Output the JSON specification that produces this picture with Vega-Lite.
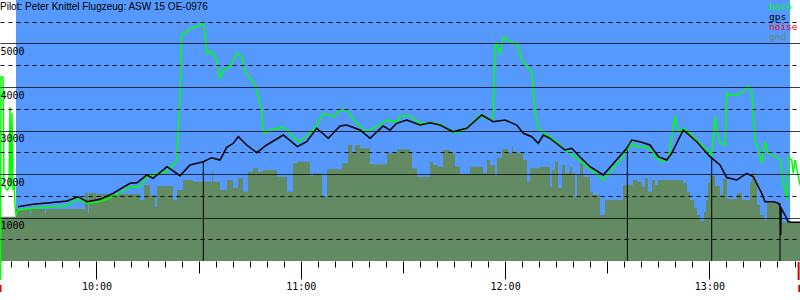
{
  "$schema": "https://vega.github.io/schema/vega-lite/v6.json",
  "width": 800,
  "height": 261,
  "autosize": {"type": "none"},
  "padding": {"left": 0, "top": 0, "right": 0, "bottom": 39},
  "background": "white",
  "config": {"view": {"stroke": null}},
  "datasets": {
    "bg": [{"start": 576.36, "end": 803.7}],
    "gnd": [
      {"t": 571.66, "alt": 1018}, {"t": 576.36, "alt": 1195}, {"t": 580.47, "alt": 1080}, {"t": 580.76, "alt": 1195},
      {"t": 584.88, "alt": 1103}, {"t": 585.17, "alt": 1195}, {"t": 596.62, "alt": 1563}, {"t": 597.5, "alt": 1103},
      {"t": 597.8, "alt": 1563}, {"t": 599.85, "alt": 1333}, {"t": 600.15, "alt": 1540}, {"t": 612.78, "alt": 1402},
      {"t": 613.95, "alt": 1747}, {"t": 615.71, "alt": 1517}, {"t": 617.18, "alt": 1241}, {"t": 617.77, "alt": 1724},
      {"t": 622.47, "alt": 1402}, {"t": 623.64, "alt": 1632}, {"t": 625.4, "alt": 1862}, {"t": 628.34, "alt": 1823},
      {"t": 633.92, "alt": 2092}, {"t": 634.22, "alt": 1823}, {"t": 636.27, "alt": 1632}, {"t": 638.33, "alt": 1862},
      {"t": 640.09, "alt": 1678}, {"t": 641.56, "alt": 1908}, {"t": 643.03, "alt": 1593}, {"t": 644.49, "alt": 2053},
      {"t": 645.96, "alt": 2131}, {"t": 647.43, "alt": 2053}, {"t": 648.9, "alt": 2092}, {"t": 653.01, "alt": 1938},
      {"t": 655.95, "alt": 1593}, {"t": 657.71, "alt": 2246}, {"t": 658.88, "alt": 2283}, {"t": 662.7, "alt": 1954},
      {"t": 663.59, "alt": 2016}, {"t": 666.23, "alt": 1478}, {"t": 667.7, "alt": 2108}, {"t": 672.1, "alt": 2246},
      {"t": 673.86, "alt": 2667}, {"t": 675.04, "alt": 2483}, {"t": 675.92, "alt": 2667}, {"t": 677.39, "alt": 2591},
      {"t": 680.33, "alt": 2223}, {"t": 685.32, "alt": 2476}, {"t": 688.26, "alt": 2568}, {"t": 692.07, "alt": 2483},
      {"t": 692.66, "alt": 2131}, {"t": 694.13, "alt": 1938}, {"t": 697.95, "alt": 2283}, {"t": 698.83, "alt": 2207},
      {"t": 700.3, "alt": 2168}, {"t": 701.76, "alt": 2552}, {"t": 703.82, "alt": 2476}, {"t": 705.29, "alt": 2168},
      {"t": 706.76, "alt": 2000}, {"t": 709.69, "alt": 2168}, {"t": 713.51, "alt": 2023}, {"t": 714.69, "alt": 2322},
      {"t": 715.57, "alt": 2207}, {"t": 717.03, "alt": 1954}, {"t": 717.62, "alt": 2361}, {"t": 719.09, "alt": 2568},
      {"t": 720.86, "alt": 2483}, {"t": 722.03, "alt": 2644}, {"t": 722.32, "alt": 2513}, {"t": 723.5, "alt": 2476},
      {"t": 725.26, "alt": 2322}, {"t": 726.43, "alt": 1823}, {"t": 727.32, "alt": 2131}, {"t": 730.25, "alt": 2168},
      {"t": 733.19, "alt": 1708}, {"t": 733.78, "alt": 2092}, {"t": 734.66, "alt": 2283}, {"t": 735.54, "alt": 1678},
      {"t": 736.71, "alt": 2207}, {"t": 737.6, "alt": 2023}, {"t": 739.06, "alt": 2168}, {"t": 739.65, "alt": 2023},
      {"t": 740.53, "alt": 1448}, {"t": 741.12, "alt": 1977}, {"t": 742.0, "alt": 2253}, {"t": 742.88, "alt": 1938},
      {"t": 744.94, "alt": 1593}, {"t": 745.82, "alt": 1517}, {"t": 747.87, "alt": 1057}, {"t": 749.34, "alt": 1402},
      {"t": 754.63, "alt": 1747}, {"t": 757.56, "alt": 1862}, {"t": 758.74, "alt": 1823}, {"t": 760.2, "alt": 1708},
      {"t": 761.09, "alt": 1901}, {"t": 761.97, "alt": 1593}, {"t": 763.15, "alt": 1862}, {"t": 764.03, "alt": 1747},
      {"t": 764.91, "alt": 1862}, {"t": 772.25, "alt": 1793}, {"t": 773.42, "alt": 1593}, {"t": 774.31, "alt": 1402},
      {"t": 775.48, "alt": 1218}, {"t": 776.36, "alt": 1057}, {"t": 777.24, "alt": 919}, {"t": 778.41, "alt": 1126},
      {"t": 779.0, "alt": 1402}, {"t": 779.59, "alt": 1793}, {"t": 780.18, "alt": 1954}, {"t": 781.65, "alt": 1724},
      {"t": 783.12, "alt": 1517}, {"t": 784.0, "alt": 1885}, {"t": 785.18, "alt": 1425}, {"t": 788.11, "alt": 1563},
      {"t": 789.58, "alt": 1402}, {"t": 791.93, "alt": 1816}, {"t": 792.52, "alt": 2046}, {"t": 793.1, "alt": 1816},
      {"t": 793.98, "alt": 1287}, {"t": 794.87, "alt": 1057}, {"t": 796.04, "alt": 942}, {"t": 796.92, "alt": 1333},
      {"t": 800.15, "alt": 1248}, {"t": 801.33, "alt": 896}, {"t": 806.61, "alt": 896}
    ],
    "baro": [
      {"t": 571.81, "alt": -437}, {"t": 571.95, "alt": 4230}, {"t": 572.54, "alt": 4230}, {"t": 572.83, "alt": 1747},
      {"t": 573.72, "alt": 1632}, {"t": 574.3, "alt": 1678}, {"t": 574.6, "alt": 3540}, {"t": 574.89, "alt": 1701},
      {"t": 575.18, "alt": 3402}, {"t": 575.48, "alt": 1632}, {"t": 575.78, "alt": 1793}, {"t": 576.07, "alt": 1287},
      {"t": 576.36, "alt": 1057}, {"t": 577.03, "alt": 1172}, {"t": 581.35, "alt": 1211}, {"t": 586.34, "alt": 1248},
      {"t": 591.34, "alt": 1271}, {"t": 594.57, "alt": 1425}, {"t": 597.21, "alt": 1326}, {"t": 601.03, "alt": 1363},
      {"t": 604.85, "alt": 1478}, {"t": 609.84, "alt": 1708}, {"t": 612.78, "alt": 1708}, {"t": 614.83, "alt": 1938},
      {"t": 617.77, "alt": 2016}, {"t": 620.7, "alt": 2053}, {"t": 622.47, "alt": 2207}, {"t": 623.64, "alt": 2322},
      {"t": 624.03, "alt": 3087}, {"t": 624.52, "alt": 3701}, {"t": 625.02, "alt": 5195}, {"t": 626.49, "alt": 5271},
      {"t": 627.46, "alt": 5349}, {"t": 629.43, "alt": 5386}, {"t": 631.37, "alt": 5464}, {"t": 631.87, "alt": 5234},
      {"t": 632.37, "alt": 4775}, {"t": 633.83, "alt": 4811}, {"t": 635.3, "alt": 4621}, {"t": 636.27, "alt": 4200},
      {"t": 637.24, "alt": 4391}, {"t": 639.21, "alt": 4467}, {"t": 641.18, "alt": 4775}, {"t": 642.64, "alt": 4697},
      {"t": 643.61, "alt": 4352}, {"t": 645.08, "alt": 4200}, {"t": 646.55, "alt": 4046}, {"t": 647.52, "alt": 3777},
      {"t": 648.52, "alt": 3471}, {"t": 648.99, "alt": 3011}, {"t": 649.49, "alt": 2936}, {"t": 650.96, "alt": 3011},
      {"t": 654.86, "alt": 3074}, {"t": 656.83, "alt": 2936}, {"t": 659.27, "alt": 2742}, {"t": 661.73, "alt": 2873},
      {"t": 663.67, "alt": 3011}, {"t": 666.61, "alt": 3395}, {"t": 669.55, "alt": 3317}, {"t": 671.51, "alt": 3471},
      {"t": 673.48, "alt": 3471}, {"t": 676.42, "alt": 3165}, {"t": 679.36, "alt": 2972}, {"t": 682.29, "alt": 3087},
      {"t": 685.23, "alt": 3241}, {"t": 688.17, "alt": 3202}, {"t": 689.14, "alt": 3333}, {"t": 692.07, "alt": 3333},
      {"t": 695.01, "alt": 3165}, {"t": 697.95, "alt": 3165}, {"t": 700.88, "alt": 3149}, {"t": 702.85, "alt": 3051},
      {"t": 705.79, "alt": 2949}, {"t": 708.72, "alt": 3051}, {"t": 712.63, "alt": 3356}, {"t": 715.56, "alt": 3241},
      {"t": 716.53, "alt": 3317}, {"t": 717.03, "alt": 4926}, {"t": 717.53, "alt": 5005}, {"t": 718.51, "alt": 4775},
      {"t": 719.48, "alt": 5156}, {"t": 721.44, "alt": 5041}, {"t": 723.41, "alt": 5005}, {"t": 723.88, "alt": 4890},
      {"t": 724.88, "alt": 4621}, {"t": 726.82, "alt": 4430}, {"t": 727.82, "alt": 4352}, {"t": 728.79, "alt": 3471},
      {"t": 729.75, "alt": 3051}, {"t": 731.72, "alt": 2936}, {"t": 735.16, "alt": 2742}, {"t": 737.6, "alt": 2552},
      {"t": 740.53, "alt": 2398}, {"t": 742.97, "alt": 2246}, {"t": 745.91, "alt": 2053}, {"t": 748.84, "alt": 1862},
      {"t": 751.78, "alt": 2131}, {"t": 755.72, "alt": 2513}, {"t": 757.19, "alt": 2706}, {"t": 758.66, "alt": 2628},
      {"t": 761.59, "alt": 2628}, {"t": 764.53, "alt": 2361}, {"t": 766.47, "alt": 2283}, {"t": 767.94, "alt": 2361},
      {"t": 768.94, "alt": 2857}, {"t": 769.9, "alt": 3317}, {"t": 770.4, "alt": 3087}, {"t": 771.37, "alt": 2936},
      {"t": 772.34, "alt": 3051}, {"t": 774.31, "alt": 2936}, {"t": 778.21, "alt": 2628}, {"t": 780.68, "alt": 2437},
      {"t": 781.15, "alt": 2857}, {"t": 781.65, "alt": 3317}, {"t": 782.15, "alt": 3011}, {"t": 783.12, "alt": 2706},
      {"t": 784.59, "alt": 2667}, {"t": 785.08, "alt": 3855}, {"t": 786.05, "alt": 3816}, {"t": 788.02, "alt": 3816},
      {"t": 789.96, "alt": 3892}, {"t": 791.43, "alt": 4023}, {"t": 792.43, "alt": 3892}, {"t": 793.4, "alt": 2782},
      {"t": 794.37, "alt": 2552}, {"t": 795.37, "alt": 2246}, {"t": 796.33, "alt": 2742}, {"t": 797.3, "alt": 2476},
      {"t": 799.27, "alt": 2398}, {"t": 800.74, "alt": 2322}, {"t": 801.24, "alt": 2092}, {"t": 801.71, "alt": 1786},
      {"t": 802.5, "alt": 1556}, {"t": 802.88, "alt": 1402}, {"t": 803.18, "alt": 2398}, {"t": 804.17, "alt": 2322},
      {"t": 804.64, "alt": 2016}, {"t": 805.14, "alt": 2322}, {"t": 806.11, "alt": 1938}, {"t": 806.61, "alt": 1747}
    ],
    "gps": [
      {"t": 576.95, "alt": 1248}, {"t": 581.35, "alt": 1303}, {"t": 586.34, "alt": 1340}, {"t": 591.34, "alt": 1379},
      {"t": 594.57, "alt": 1478}, {"t": 597.21, "alt": 1363}, {"t": 601.03, "alt": 1418}, {"t": 604.85, "alt": 1556},
      {"t": 609.84, "alt": 1786}, {"t": 611.9, "alt": 1800}, {"t": 614.83, "alt": 1977}, {"t": 616.6, "alt": 1901},
      {"t": 620.7, "alt": 2168}, {"t": 624.52, "alt": 1961}, {"t": 627.46, "alt": 2207}, {"t": 631.37, "alt": 2283},
      {"t": 633.83, "alt": 2375}, {"t": 636.27, "alt": 2322}, {"t": 638.24, "alt": 2614}, {"t": 640.18, "alt": 2706},
      {"t": 641.65, "alt": 2857}, {"t": 644.11, "alt": 2667}, {"t": 647.05, "alt": 2490}, {"t": 649.99, "alt": 2667},
      {"t": 654.86, "alt": 2896}, {"t": 659.0, "alt": 2628}, {"t": 661.73, "alt": 2742}, {"t": 664.67, "alt": 3051},
      {"t": 668.08, "alt": 2821}, {"t": 671.51, "alt": 3103}, {"t": 673.48, "alt": 3126}, {"t": 677.39, "alt": 3011},
      {"t": 680.33, "alt": 2821}, {"t": 684.23, "alt": 3103}, {"t": 686.2, "alt": 3011}, {"t": 688.17, "alt": 3165},
      {"t": 691.1, "alt": 3241}, {"t": 695.01, "alt": 3126}, {"t": 697.95, "alt": 3179}, {"t": 700.88, "alt": 3126},
      {"t": 704.7, "alt": 2972}, {"t": 708.72, "alt": 3051}, {"t": 713.13, "alt": 3356}, {"t": 716.53, "alt": 3202},
      {"t": 719.97, "alt": 3241}, {"t": 723.41, "alt": 3126}, {"t": 725.35, "alt": 2936}, {"t": 727.82, "alt": 2857},
      {"t": 729.75, "alt": 2706}, {"t": 731.22, "alt": 2896}, {"t": 733.19, "alt": 2821}, {"t": 737.6, "alt": 2552},
      {"t": 739.56, "alt": 2591}, {"t": 742.0, "alt": 2391}, {"t": 744.93, "alt": 2168}, {"t": 748.84, "alt": 1977},
      {"t": 755.72, "alt": 2591}, {"t": 757.19, "alt": 2782}, {"t": 759.62, "alt": 2742}, {"t": 762.56, "alt": 2667},
      {"t": 765.0, "alt": 2398}, {"t": 767.46, "alt": 2322}, {"t": 768.94, "alt": 2476}, {"t": 772.34, "alt": 3011},
      {"t": 776.28, "alt": 2742}, {"t": 780.18, "alt": 2398}, {"t": 783.12, "alt": 2207}, {"t": 785.08, "alt": 1919},
      {"t": 788.02, "alt": 1862}, {"t": 790.96, "alt": 2016}, {"t": 792.9, "alt": 1938}, {"t": 795.37, "alt": 1556},
      {"t": 796.33, "alt": 1363}, {"t": 798.77, "alt": 1363}, {"t": 800.24, "alt": 1333}, {"t": 800.89, "alt": 1218},
      {"t": 800.94, "alt": 598}, {"t": 801.03, "alt": 1218}, {"t": 802.21, "alt": 1057}, {"t": 803.09, "alt": 903},
      {"t": 804.17, "alt": 890}, {"t": 806.61, "alt": 890}
    ],
    "marks": [
      {"t": 631.37, "alt": 2283}, {"t": 755.9, "alt": 2552}, {"t": 780.68, "alt": 2398}, {"t": 800.74, "alt": 1333}
    ],
    "noise": [
      {"t": 571.8, "lo": -552, "hi": -713}, {"t": 806.2, "lo": -23, "hi": -437}, {"t": 806.4, "lo": -552, "hi": -713}
    ]
  },
  "layer": [
    {
      "data": {"name": "bg"},
      "mark": {"type": "rect", "color": "#5599ff"},
      "encoding": {
        "x": {"field": "start", "type": "quantitative", "scale": {"domain": [571.66, 806.61], "nice": false, "zero": false, "padding": 0},
          "axis": {"values": [575,580,585,590,595,600,605,610,615,620,625,630,635,640,645,650,655,660,665,670,675,680,685,690,695,700,705,710,715,720,725,730,735,740,745,750,755,760,765,770,775,780,785,790,795,800,805],
            "tickCount": 200,
            "labelExpr": "datum.value % 60 === 0 ? floor(datum.value / 60) + ':00' : ''",
            "domain": false, "grid": false, "ticks": true,
            "tickSize": {"condition": [{"test": "datum.value % 60 === 0", "value": 18}, {"test": "datum.value % 30 === 0", "value": 12}], "value": 6},
            "tickColor": "black", "tickWidth": 1, "labelPadding": 2, "labelBaseline": "top", "labelFlush": false, "labelOverlap": false,
            "labelFont": "DejaVu Sans Mono", "labelFontSize": 10, "labelColor": "black", "title": null, "zindex": 1}},
        "x2": {"field": "end"}
      }
    },
    {
      "data": {"name": "gnd"},
      "mark": {"type": "area", "color": "#638b63", "interpolate": "step-after", "opacity": 1},
      "encoding": {
        "x": {"field": "t", "type": "quantitative"},
        "y": {"field": "alt", "type": "quantitative", "scale": {"domain": [0, 6000], "nice": false, "zero": false, "padding": 0},
          "axis": {"values": [500, 1000, 1500, 2000, 2500, 3000, 3500, 4000, 4500, 5000, 5500], "tickCount": 50,
            "grid": true, "gridColor": "black", "gridWidth": 1, "gridOpacity": 1,
            "gridDash": {"condition": {"test": "datum.value % 1000 === 0", "value": [1, 0]}, "value": [4, 4]},
            "labelExpr": "datum.value % 1000 === 0 ? '' + datum.value : ''",
            "ticks": false, "domain": false, "labelAlign": "left", "labelBaseline": "top", "labelPadding": 0, "labelOffset": 3,
            "labelFlush": false, "labelOverlap": false,
            "labelFont": "DejaVu Sans Mono", "labelFontSize": 10, "labelColor": "black", "title": null, "zindex": 1}}
      }
    },
    {
      "data": {"name": "baro"},
      "mark": {"type": "line", "color": "#00ff00", "strokeWidth": 1.5},
      "encoding": {
        "x": {"field": "t", "type": "quantitative"},
        "y": {"field": "alt", "type": "quantitative"}
      }
    },
    {
      "data": {"name": "gps"},
      "mark": {"type": "line", "color": "black", "strokeWidth": 1.5},
      "encoding": {
        "x": {"field": "t", "type": "quantitative"},
        "y": {"field": "alt", "type": "quantitative"}
      }
    },
    {
      "data": {"name": "marks"},
      "mark": {"type": "rule", "color": "black", "strokeWidth": 1},
      "encoding": {
        "x": {"field": "t", "type": "quantitative"},
        "y": {"field": "alt", "type": "quantitative"},
        "y2": {"datum": 0}
      }
    },
    {
      "data": {"name": "noise"},
      "mark": {"type": "rule", "color": "#dd0000", "strokeWidth": 2},
      "encoding": {
        "x": {"field": "t", "type": "quantitative"},
        "y": {"field": "lo", "type": "quantitative"},
        "y2": {"field": "hi"}
      }
    },
    {
      "data": {"values": [{"label": "Pilot: Peter Knittel Flugzeug: ASW 15 OE-0976", "t": 571.66, "alt": 6000}]},
      "mark": {"type": "text", "align": "left", "baseline": "top", "dy": 1.5, "font": "Liberation Sans", "fontSize": 10, "color": "black"},
      "encoding": {
        "x": {"field": "t", "type": "quantitative"},
        "y": {"field": "alt", "type": "quantitative"},
        "text": {"field": "label"}
      }
    },
    {
      "data": {"values": [
        {"series": "baro", "t": 797.5, "alt": 5770},
        {"series": "gps", "t": 797.5, "alt": 5550},
        {"series": "noise", "t": 797.5, "alt": 5310},
        {"series": "gnd", "t": 797.5, "alt": 5090}
      ]},
      "mark": {"type": "text", "align": "left", "baseline": "alphabetic", "font": "DejaVu Sans Mono", "fontSize": 9.5},
      "encoding": {
        "x": {"field": "t", "type": "quantitative"},
        "y": {"field": "alt", "type": "quantitative"},
        "color": {"field": "series", "type": "nominal", "scale": {"domain": ["baro", "gps", "noise", "gnd"], "range": ["#00ff00", "#000000", "#ff0000", "#638b63"]}, "legend": null},
        "text": {"field": "series"}
      }
    }
  ]
}
